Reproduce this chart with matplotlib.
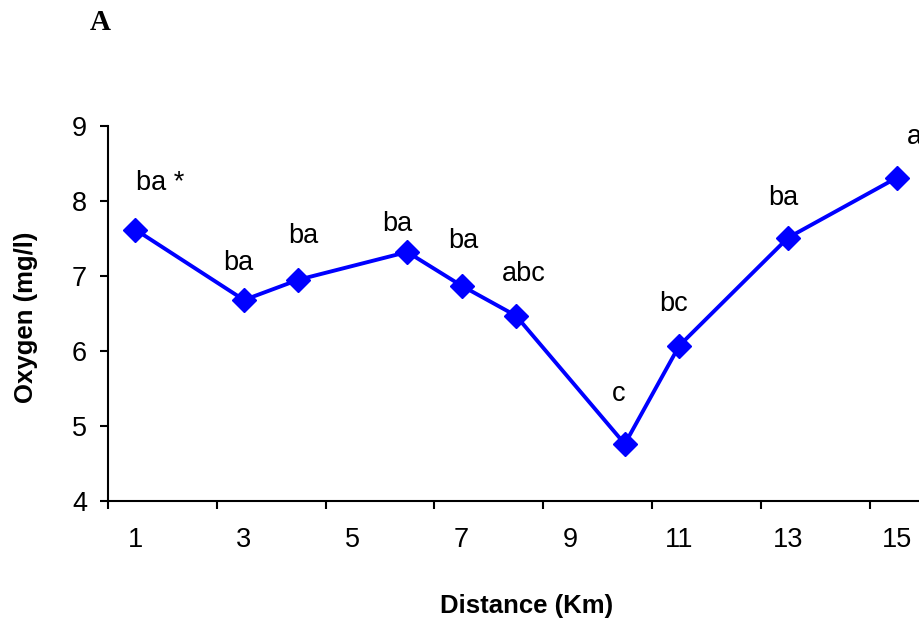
import numpy as np
import matplotlib
matplotlib.use("Agg")
import matplotlib.pyplot as plt
from matplotlib.ticker import FixedLocator, NullFormatter

plt.rcParams['font.family'] = ['Liberation Sans', 'DejaVu Sans']

distance = [1, 3, 4, 6, 7, 8, 10, 11, 13, 15]
oxygen = [7.62, 6.68, 6.95, 7.32, 6.87, 6.47, 4.76, 6.07, 7.51, 8.31]
groups = ["ba *", "ba", "ba", "ba", "ba", "abc", "c", "bc", "ba", "a"]
# where each group letter sits
label_x = [1.46, 2.89, 4.09, 5.82, 7.03, 8.15, 9.88, 10.89, 12.91, 15.32]
label_y = [8.24, 7.17, 7.53, 7.69, 7.47, 7.03, 5.43, 6.63, 8.04, 8.85]
xtick_labels = [1, 3, 5, 7, 9, 11, 13, 15]

fig = plt.figure(figsize=(9.2, 6.25), dpi=100)
ax = fig.add_axes([108/920, 1 - 501/625, 816/920, 375/625])

ax.plot(distance, oxygen, color="#0000ff", lw=2.8, marker="D", ms=12.5,
        markerfacecolor="#0000ff", markeredgecolor="#0000ff", clip_on=False)

for gx, gy, g in zip(label_x, label_y, groups):
    ax.text(gx, gy, g, ha="center", va="center", fontsize=19.5)

ax.set_xlim(0.5, 15.5)
ax.set_ylim(4, 9)
ax.set_yticks(range(4, 10))

# tick marks sit between the labelled distances
ax.xaxis.set_major_locator(FixedLocator(np.arange(0.5, 15.6, 2)))
ax.xaxis.set_major_formatter(NullFormatter())
for v in xtick_labels:
    ax.text(v, 3.48, str(v), ha="center", va="center", fontsize=19.5)

ax.spines["top"].set_visible(False)
ax.spines["right"].set_visible(False)
for s in ("left", "bottom"):
    ax.spines[s].set_linewidth(1.5)
ax.tick_params(axis="both", direction="out", length=6, width=1.5, labelsize=19.5)
ax.tick_params(axis="y", pad=9)

ax.set_ylabel("Oxygen (mg/l)", fontsize=18.5, fontweight="bold")
ax.yaxis.set_label_coords(-(108 - 26) / 816, (501 - 317) / 375)
ax.set_xlabel("Distance (Km)", fontsize=18.5, fontweight="bold")
ax.xaxis.set_label_coords((527 - 108) / 816, -(606 - 501) / 375)
ax.xaxis.label.set_va("center")
ax.yaxis.label.set_va("center")

fig.text(100/920, 1 - 22/625, "A", ha="center", va="center", fontsize=21,
         fontweight="bold", family="Liberation Serif")

fig.savefig("out.png", dpi=100)
